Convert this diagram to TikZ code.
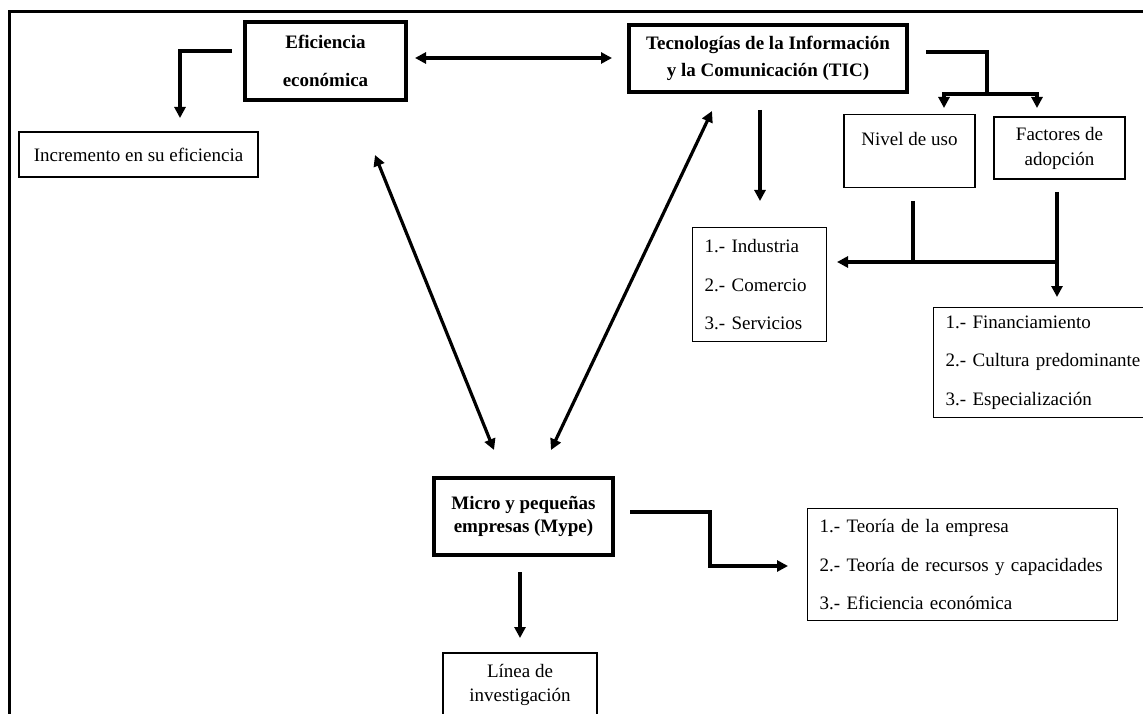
\documentclass[tikz,border=0pt]{standalone}
\usepackage{fontspec}
\setmainfont{Liberation Serif}
\usetikzlibrary{arrows.meta,positioning,calc}
\tikzset{
  thickbox/.style={draw, line width=3.2pt, inner sep=0pt, align=center, font=\bfseries\fontsize{19}{27}\selectfont},
  thinbox/.style={draw, line width=1.4pt, inner sep=0pt, align=center, font=\fontsize{19}{25}\selectfont},
  listbox/.style={draw, line width=1.4pt, inner xsep=12pt, inner ysep=0pt, align=left, anchor=north west, font=\fontsize{19}{38.5}\selectfont},
  ln/.style={line width=3.2pt},
  arr/.style={line width=3.2pt, -{Triangle[length=11pt,width=11pt]}},
  darr/.style={line width=3.2pt, {Triangle[length=11pt,width=11pt]}-{Triangle[length=11pt,width=11pt]}},
}
\begin{document}
\begin{tikzpicture}[x=1pt,y=-1pt]
\clip (0,0) rectangle (1143,714);
\fill[white] (0,0) rectangle (1143,714);
% frame
\draw[line width=3.6pt] (9.5,730) -- (9.5,11.5) -- (1160,11.5);

% boxes
\node[thickbox, minimum width=161pt, minimum height=78pt, font=\bfseries\fontsize{19}{38}\selectfont] (ef) at (325.5,61) {Eficiencia\\económica};
\node[thinbox, minimum width=239pt, minimum height=45pt] (inc) at (138.5,154.5) {Incremento en su eficiencia};
\node[thickbox, minimum width=278pt, minimum height=67pt] (tic) at (768,58.5) {Tecnologías de la Información\\y la Comunicación (TIC)};
\node[thinbox, minimum width=131pt, minimum height=73pt] (niv) at (909.5,151) {Nivel de uso\\\mbox{}};
\node[thinbox, minimum width=131pt, minimum height=62pt] (fac) at (1059.5,148) {Factores de\\adopción};
\node[listbox, text width=110pt, minimum height=114pt] (ind) at (692,227) {1.- Industria\\2.- Comercio\\3.- Servicios};
\node[listbox, text width=200pt, minimum height=110pt] (fin) at (933,307) {1.- Financiamiento\\2.- Cultura predominante\\3.- Especialización};
\node[thickbox, minimum width=179pt, minimum height=77pt, font=\bfseries\fontsize{19}{23}\selectfont] (myp) at (523.5,516.5) {Micro y pequeñas\\empresas (Mype)};
\node[listbox, text width=286pt, minimum height=112pt] (teo) at (807,508) {1.- Teoría de la empresa\\2.- Teoría de recursos y capacidades\\3.- Eficiencia económica};
\node[thinbox, minimum width=154pt, minimum height=64pt, font=\fontsize{19}{24}\selectfont] (lin) at (520,685) {Línea de\\investigación};

% connector end points
\coordinate (efL) at (232,51);
\coordinate (incT) at (180,118);
\coordinate (efR) at (415,58);
\coordinate (ticL) at (612,58);
\coordinate (ticR) at (926,52);
\coordinate (split) at (987,94);
\coordinate (nivT) at (944,108);
\coordinate (facT) at (1037,108);
\coordinate (ticB) at (760,110);
\coordinate (indT) at (760,201);
\coordinate (nivB) at (913,201);
\coordinate (join) at (913,262);
\coordinate (facB) at (1057,192);
\coordinate (facJ) at (1057,262);
\coordinate (indR) at (837,262);
\coordinate (finT) at (1057,297);
\coordinate (efB) at (375,155);
\coordinate (mypL) at (494,450);
\coordinate (ticD) at (712,111);
\coordinate (mypR) at (551,450);
\coordinate (mypE) at (630,512);
\coordinate (teoL) at (788,566);
\coordinate (mypB) at (520,572);
\coordinate (linT) at (520,638);

% connectors
\draw[arr] (efL) -| (incT);
\draw[darr] (efR) -- (ticL);
\draw[ln] (ticR) -| (split);
\draw[arr] (split) -| (nivT);
\draw[arr] (split) -| (facT);
\draw[arr] (ticB) -- (indT);
\draw[ln] (nivB) -- (join);
\draw[arr] (facB) -- (finT);
\draw[arr] (facJ) -- (indR);
\draw[darr] (efB) -- (mypL);
\draw[darr] (ticD) -- (mypR);
\draw[arr] (mypE) -- (710,512) |- (teoL);
\draw[arr] (mypB) -- (linT);
\end{tikzpicture}
\end{document}
